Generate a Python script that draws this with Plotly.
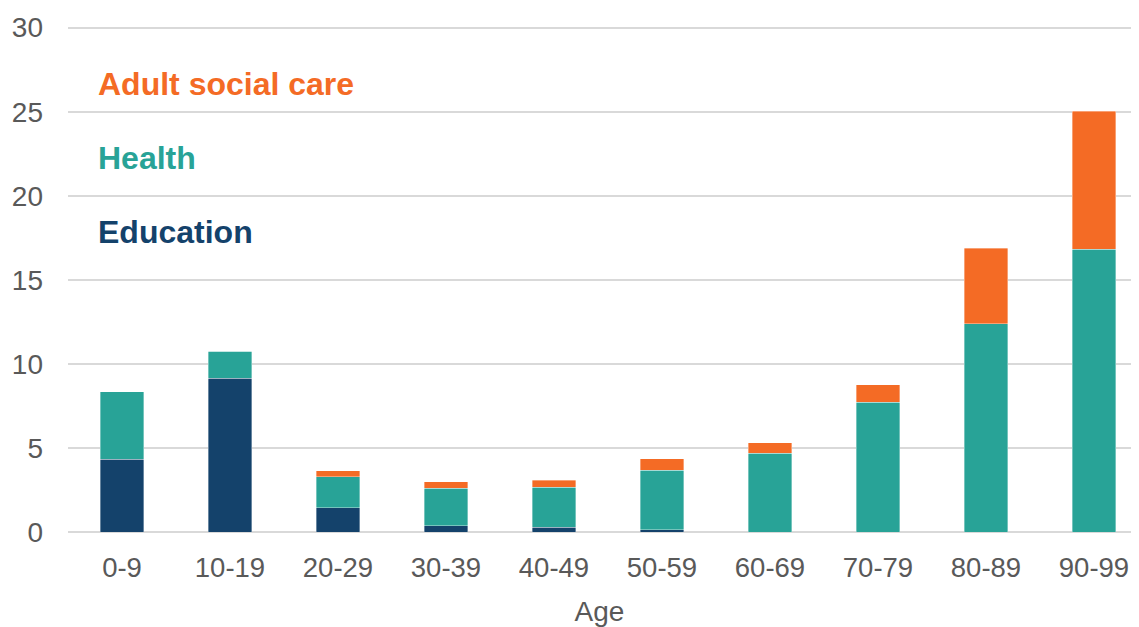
import plotly.graph_objects as go

ages = ["0-9", "10-19", "20-29", "30-39", "40-49", "50-59", "60-69", "70-79", "80-89", "90-99"]
education = [4.34, 9.15, 1.43, 0.36, 0.27, 0.14, 0.0, 0.0, 0.0, 0.0]
health_total = [8.35, 10.75, 3.30, 2.61, 2.67, 3.68, 4.69, 7.72, 12.38, 16.81]
asc_total = [8.35, 10.75, 3.64, 2.99, 3.09, 4.37, 5.32, 8.75, 16.87, 25.03]

health = [round(h - e, 2) for h, e in zip(health_total, education)]
social_care = [round(a - h, 2) for a, h in zip(asc_total, health_total)]

C_EDU = "#14426B"
C_HEALTH = "#28A397"
C_ASC = "#F46B25"
GREY = "#595959"
FONT = "Liberation Sans, Arial, sans-serif"

fig = go.Figure()
for name, vals, col in [("Education", education, C_EDU),
                        ("Health", health, C_HEALTH),
                        ("Adult social care", social_care, C_ASC)]:
    fig.add_trace(go.Bar(x=ages, y=vals, name=name, marker_color=col,
                         marker_line_width=0.6, marker_line_color="rgba(255,255,255,0.6)",
                         showlegend=False))

for text, yv, col in [("Adult social care", 26.65, C_ASC),
                      ("Health", 22.25, C_HEALTH),
                      ("Education", 17.85, C_EDU)]:
    fig.add_annotation(text=f"<b>{text}</b>", xref="paper", x=0.0265, xanchor="left",
                       yref="y", y=yv, yanchor="middle", showarrow=False,
                       font=dict(family=FONT, size=32, color=col))

# page body has an 8px margin, so the figure is sized/offset to compensate
fig.update_layout(
    barmode="stack",
    bargap=0.6,
    width=1123, height=619,
    margin=dict(l=60, r=0, t=18, b=94.5),
    paper_bgcolor="white", plot_bgcolor="white",
    font=dict(family=FONT, color=GREY),
)
fig.update_xaxes(range=[-0.5, 9.343], showgrid=False, showline=False, automargin=False,
                 tickfont=dict(size=27.5, color=GREY), ticklabelstandoff=16,
                 title=dict(text="Age", font=dict(size=28, color=GREY), standoff=21))
fig.update_yaxes(range=[0, 30.1], tickvals=[0, 5, 10, 15, 20, 25, 30], automargin=False,
                 showgrid=True, gridcolor="#D9D9D9", gridwidth=1.5,
                 zeroline=True, zerolinecolor="#D9D9D9", zerolinewidth=1.5,
                 tickfont=dict(size=28, color=GREY), ticklabelstandoff=24)

fig.write_html("out.html")
